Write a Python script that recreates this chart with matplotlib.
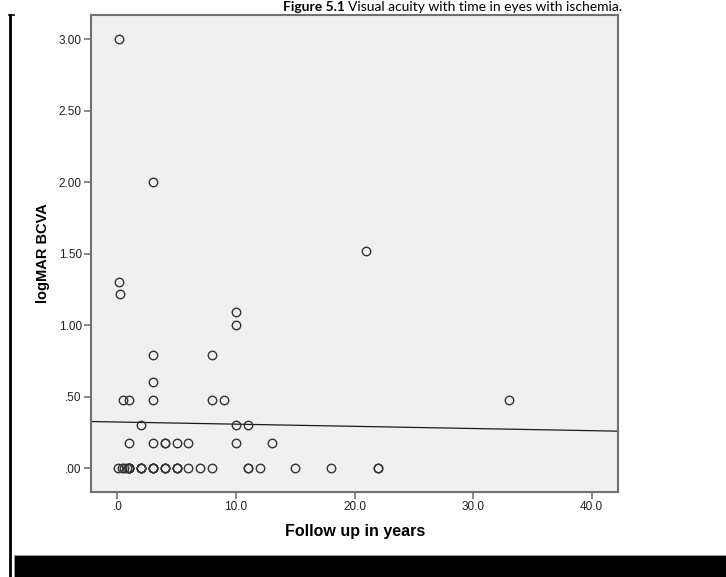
import numpy as np
import matplotlib
matplotlib.use("Agg")
import matplotlib.pyplot as plt
from matplotlib.lines import Line2D
from matplotlib.patches import Rectangle

# Follow-up time (years) and best-corrected visual acuity (logMAR) per eye
follow_up_years = [
    0.1, 3, 21, 0.1, 0.25, 10, 10,
    3, 8, 3,
    0.5, 1, 3, 8, 9, 33,
    2, 10, 11,
    1, 3, 4, 4, 5, 6, 10, 13,
    0.05, 0.4, 0.6, 0.85, 1, 1, 1, 1, 2, 2, 2, 2, 3, 3, 3, 3,
    4, 4, 4, 5, 5, 5, 6, 7, 8, 11, 11, 12, 15, 18, 22, 22,
]
logmar_bcva = [
    3.00, 2.00, 1.52, 1.30, 1.22, 1.09, 1.00,
    0.79, 0.79, 0.60,
    0.48, 0.48, 0.48, 0.48, 0.48, 0.48,
    0.30, 0.30, 0.30,
    0.18, 0.18, 0.18, 0.18, 0.18, 0.18, 0.18, 0.18,
    0, 0, 0, 0, 0, 0, 0, 0, 0, 0, 0, 0, 0, 0, 0, 0,
    0, 0, 0, 0, 0, 0, 0, 0, 0, 0, 0, 0, 0, 0, 0, 0,
]

x_ticks = [0, 10, 20, 30, 40]
x_tick_labels = [".0", "10.0", "20.0", "30.0", "40.0"]
y_ticks = [0, 0.5, 1.0, 1.5, 2.0, 2.5, 3.0]
y_tick_labels = [".00", ".50", "1.00", "1.50", "2.00", "2.50", "3.00"]

W, H = 726, 577
fig = plt.figure(figsize=(W / 100, H / 100), dpi=100)
fig.patch.set_facecolor("white")

ax_l, ax_r, ax_t, ax_b = 91, 618.3, 15, 491.7
ax = fig.add_axes([ax_l / W, 1 - ax_b / H, (ax_r - ax_l) / W, (ax_b - ax_t) / H])
ax.set_facecolor("#f0f0f0")

x = np.array(follow_up_years, dtype=float)
y = np.array(logmar_bcva, dtype=float)

ax.plot(x, y, linestyle="none", marker="o", markersize=6.1,
        markerfacecolor="none", markeredgecolor="#333333",
        markeredgewidth=1.0, zorder=3)

ax.set_xlim(-2.22, 42.24)
ax.set_ylim(-0.164, 3.17)

# Linear fit line across the full x range
slope, intercept = np.polyfit(x, y, 1)
xl = np.array(ax.get_xlim())
ax.plot(xl, intercept + slope * xl, color="#1a1a1a", linewidth=0.9, zorder=2)

ax.set_xticks(x_ticks)
ax.set_xticklabels(x_tick_labels)
ax.set_yticks(y_ticks)
ax.set_yticklabels(y_tick_labels)

for lab in ax.get_xticklabels() + ax.get_yticklabels():
    lab.set_fontfamily("Liberation Sans")
    lab.set_fontsize(8.5)
    lab.set_color("#222222")

ax.tick_params(axis="both", direction="out", length=5.2, width=1.1,
               color="#6a6a6a", pad=1.5)
for sp in ax.spines.values():
    sp.set_color("#707070")
    sp.set_linewidth(1.5)

ax.set_xlabel("Follow up in years", fontfamily="Liberation Sans",
              fontweight="bold", fontsize=11.5, labelpad=8)
ax.set_ylabel("logMAR BCVA", fontfamily="Liberation Sans",
              fontweight="bold", fontsize=10.5, labelpad=6)

# Caption along the top edge of the page
renderer = fig.canvas.get_renderer()
cap_y = 1 - 11 / H
t1 = fig.text(283 / W, cap_y, "Figure 5.1", fontfamily="Lato",
              fontweight="bold", fontsize=10, ha="left", va="baseline")
bb = t1.get_window_extent(renderer=renderer)
fig.text((bb.x1 + 3.5) / W, cap_y, "Visual acuity with time in eyes with ischemia.",
         fontfamily="Lato", fontsize=10, ha="left", va="baseline")

# Page frame elements: left bracket and bottom black band
fig.add_artist(Line2D([9.5 / W, 9.5 / W], [1 - 14 / H, 0], transform=fig.transFigure,
                      color="black", linewidth=2.0, solid_capstyle="butt"))
fig.add_artist(Line2D([8.5 / W, 14 / W], [1 - 14.5 / H, 1 - 14.5 / H],
                      transform=fig.transFigure, color="black", linewidth=1.2))
fig.add_artist(Rectangle((14 / W, 0), 1, 22 / H, transform=fig.transFigure,
                         facecolor="black", edgecolor="#9a9a9a", linewidth=0.6))

fig.savefig("out.png", dpi=100)
